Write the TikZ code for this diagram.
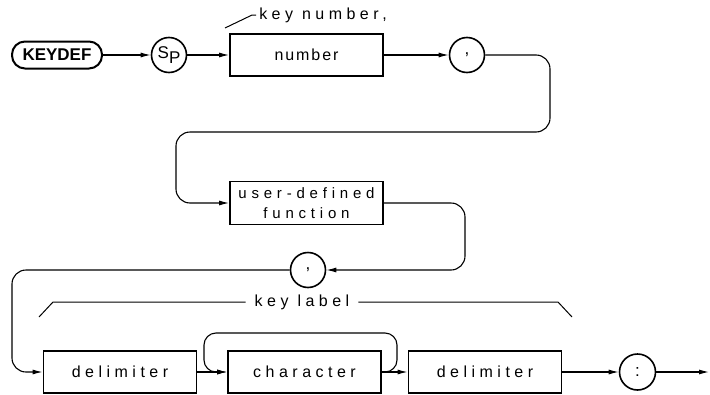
\documentclass[tikz,border=0pt]{standalone}
\usepackage{fontspec}
\newfontfamily\diagfont[LetterSpace=28]{Liberation Sans}
\newfontfamily\numfont[LetterSpace=12]{Liberation Sans}
\newfontfamily\udffont[LetterSpace=32]{Liberation Sans}
\newfontfamily\keyfont{Liberation Sans}
\usetikzlibrary{arrows.meta}

\begin{document}
\begin{tikzpicture}[x=1pt,y=-1pt,
  box/.style={draw,line width=1.8pt,minimum width=153pt,minimum height=42pt,
    inner sep=0pt,font=\diagfont\fontsize{16}{18}\selectfont},
  term/.style={draw,circle,line width=1.6pt,minimum size=35pt,inner sep=0pt,
    font=\keyfont\fontsize{17}{19}\selectfont},
  flow/.style={line width=1.1pt,-{Latex[length=10pt,width=5pt]}},
  note/.style={inner sep=3pt,font=\diagfont\fontsize{16}{18}\selectfont}]
  \useasboundingbox (0,0) rectangle (710,394);
  % Ligne 1
  \node[draw,line width=2pt,rounded corners=13pt,minimum width=90pt,minimum height=27pt,
    inner sep=0pt,font=\keyfont\bfseries\fontsize{17}{19}\selectfont] (keydef) at (57,55) {KEYDEF};
  \node[term] (sp) at (169,55) {S\raisebox{-5pt}{P}};
  \node[box,font=\numfont\fontsize{16}{18}\selectfont] (num) at (306.5,55) {number};
  \node[term] (comma1) at (467,55) {,};
  \node[note] (keynum) at (323,15) {key number,};
  \draw[line width=1pt] (keynum.west) -- ++(-4,0) -- (225,28);
  \draw[flow] (keydef) -- (sp);
  \draw[flow] (sp) -- (num);
  \draw[flow] (num) -- (comma1);
  % Ligne 2
  \node[box,minimum height=43pt,align=center,font=\udffont\fontsize{15}{20}\selectfont]
    (udf) at (306.5,203) {user-defined\\function};
  \node[term] (comma2) at (308,270) {,};
  \draw[flow,rounded corners=14pt] (comma1.east) -- (550,55) -- (550,132)
    -- (176,132) -- (176,203) -- (udf.west);
  \draw[flow,rounded corners=14pt] (udf.east) -- (465,203) -- (465,270) -- (comma2.east);
  % Ligne 3
  \node[box] (delim1) at (120,372) {delimiter};
  \node[box] (char) at (304.5,372) {character};
  \node[box] (delim2) at (485,372) {delimiter};
  \node[term,minimum size=36pt] (colon) at (637.5,372) {:};
  \coordinate (exit) at (709,372);
  \draw[flow,rounded corners=14pt] (comma2.west) -- (12,270) -- (12,372) -- (delim1.west);
  \draw[flow] (delim1) -- (char);
  \draw[flow] (char) -- (delim2);
  \draw[flow,rounded corners=12pt] (char.east) -| (397,333) -| (204,372) -- (char.west);
  \draw[flow] (delim2) -- (colon);
  \draw[flow] (colon) -- (exit);
  % Accolade
  \node[note,inner xsep=9pt] (keylbl) at (302,302) {key label};
  \draw[line width=1pt] (keylbl.west) -- (53,302) -- (39,317);
  \draw[line width=1pt] (keylbl.east) -- (558,302) -- (572,317);
\end{tikzpicture}
\end{document}
